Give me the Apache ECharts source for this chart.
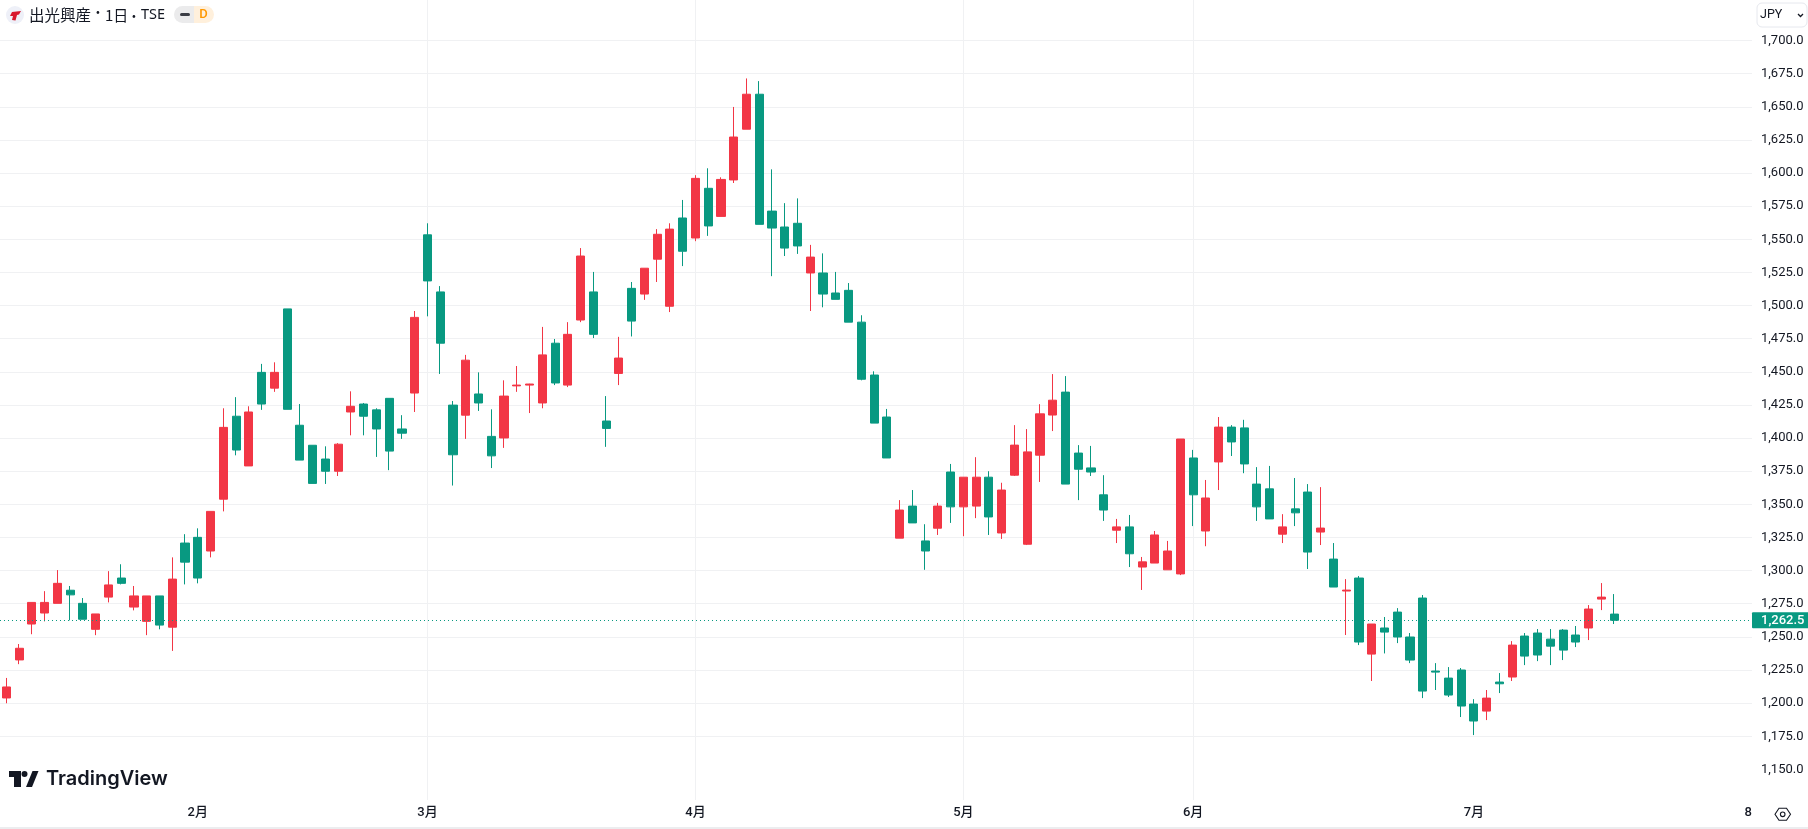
<!DOCTYPE html>
<html>
<head>
<meta charset="utf-8">
<style>html,body{margin:0;padding:0;background:#fff}#c{width:1808px;height:829px}</style>
<script src="https://cdn.jsdelivr.net/npm/echarts@6/dist/echarts.min.js"></script>
</head>
<body>
<div id="c"></div>
<script>
const opens = [1203.9,1232.6,1259.7,1268,1275.3,1285.2,1275.3,1255.7,1280,1294.4,1272.5,1261.7,1280.9,1257.3,1320.8,1325.1,1314.8,1353.9,1416.5,1379,1449.6,1437.7,1497.5,1409.7,1394.6,1384.2,1375,1419.7,1425.7,1421.3,1430,1406.9,1434,1553.4,1510.3,1424.9,1417.3,1433.3,1401.3,1400.1,1439.4,1440,1426.5,1471.6,1440,1489.1,1510.3,1412.9,1448.8,1513,1508.7,1535,1499.5,1566.1,1551,1588.5,1567.3,1594.8,1633.1,1659.5,1571.3,1559.3,1562.1,1524.6,1524.6,1509.5,1511.5,1487.5,1447.6,1415.9,1324.5,1348.7,1322.4,1332,1374.4,1348.1,1348.7,1370.5,1328.4,1372,1319.9,1387.1,1417.4,1434.7,1388.7,1377.5,1357.2,1330.5,1333,1302.7,1305.7,1300.6,1297.5,1385,1329.9,1382,1408.3,1407.7,1365.3,1361.7,1327.5,1346.6,1359.3,1329.1,1308.7,1284.6,1294.4,1237,1256.7,1268.7,1249.9,1279.3,1224.2,1218.9,1225,1199.3,1194,1215.9,1219.7,1250.6,1252.9,1248.3,1255.1,1251.4,1256.7,1278.5,1267.2];
const closes = [1212.2,1241.4,1276,1276,1290.4,1281.7,1263.3,1267.3,1289.2,1290.4,1280.9,1280.9,1258.9,1293.6,1306.4,1294.4,1344.7,1408.1,1391,1419.7,1425.7,1449.6,1421.7,1383.4,1365.8,1375,1395.4,1424,1416.5,1406.9,1390.2,1403.7,1491.1,1518.6,1471.6,1387.4,1458.8,1426.5,1386.6,1431.7,1440,1440.8,1462.8,1441.6,1478.3,1537.4,1478.3,1407.3,1460.4,1488.3,1528.2,1553.8,1557.7,1541,1596,1560.1,1595.2,1627.2,1659.5,1561.3,1558.5,1543.4,1545,1536.6,1508.7,1504.7,1487.5,1444.4,1411.3,1385,1345.7,1336,1314.8,1348.7,1348.1,1370.5,1370.5,1340.5,1360.8,1394.7,1389.6,1418.3,1428.6,1365.3,1376.5,1374.4,1345.7,1333,1312.7,1306.6,1326.9,1314.8,1399.3,1357.2,1354.8,1408.3,1397.1,1380.5,1348.1,1339,1333,1343.6,1314,1332.1,1287.6,1285.3,1246.1,1259.7,1253.6,1249.9,1232.5,1209.1,1223.4,1206.1,1197.8,1186.5,1203.8,1214.6,1243.8,1235.5,1236.3,1243,1240,1246.1,1271,1280,1262.5];
const lows = [1199.9,1229.4,1252,1261.7,1275.3,1262.5,1263.3,1251.3,1276,1289.6,1270,1251.3,1255.7,1239.4,1289.6,1290.4,1310,1344.7,1387,1379,1421.3,1434.9,1421.7,1383.4,1365.8,1365.4,1371.4,1402.1,1402.1,1385.8,1375.8,1399.4,1419.7,1491.9,1448.4,1364.2,1399.4,1420.5,1377.4,1392.6,1434.9,1418.9,1422.5,1440,1438.5,1487.5,1475.5,1393.4,1440,1476.7,1504.3,1517.8,1495.1,1529.8,1548.6,1552.6,1567.3,1592.5,1633.1,1561.3,1522.2,1537.4,1539,1495.9,1498.7,1504.7,1487.5,1443.6,1411.3,1385,1324.5,1336,1300.6,1326.9,1336,1326,1339.6,1326.9,1323.9,1371.4,1319.3,1366.9,1405.3,1365.3,1353.2,1371.4,1337.5,1320.8,1302.7,1285.4,1305.7,1300.6,1296.6,1333.6,1318.4,1360.8,1386.5,1373.5,1337.5,1339,1320.8,1333.6,1301.2,1319.3,1287.6,1251.4,1243.8,1216.7,1237.5,1245.3,1230.2,1203.8,1209.9,1204.6,1189.5,1175.9,1187.2,1207.6,1216.7,1228.7,1231.7,1228.7,1232.5,1242.3,1247.6,1270.2,1259.7];
const highs = [1219,1244.6,1276,1284.5,1300.4,1288.4,1279.3,1267.3,1299.6,1304.8,1288.4,1280.9,1280.9,1310,1327.5,1331.9,1344.7,1422.5,1430.9,1424,1456,1457.2,1497.5,1425.7,1394.6,1393.8,1396.2,1435.3,1426.5,1422.5,1430,1417.3,1495.9,1562.1,1514.7,1428,1462.8,1449.6,1421.7,1443.6,1454.4,1441,1483.9,1474.8,1487.5,1543.4,1525.4,1431.7,1476.4,1517.8,1528.2,1557.7,1562.1,1579.7,1598.4,1603.6,1596.8,1649.9,1671.4,1669.4,1602.8,1577.3,1580.9,1545.8,1539.4,1525.4,1517,1492.7,1450.4,1422,1353.2,1360.8,1335,1351.1,1380.5,1370.5,1385.6,1375,1366.3,1409.8,1406.8,1425.6,1448.3,1446.8,1394.7,1394.1,1372,1339,1342,1310.3,1329.9,1322.4,1399.3,1391.1,1368.4,1415.9,1409.8,1413.8,1378.1,1379,1342.6,1369.9,1365.3,1363,1320.8,1293.6,1295.9,1259.7,1265,1271.7,1252.9,1281.6,1230.2,1227.2,1226.5,1203,1209.9,1222.7,1246.8,1252.9,1255.9,1255.9,1255.9,1258.2,1274,1290.6,1282.3];

const monthBars = [15, 33, 54, 75, 93, 115];
const monthLabels = ['2月', '3月', '4月', '5月', '6月', '7月'];
const nextTickBar = 136.5;
const nextTickLabel = '8';
const priceTicks = [1150,1175,1200,1225,1250,1275,1300,1325,1350,1375,1400,1425,1450,1475,1500,1525,1550,1575,1600,1625,1650,1675,1700,1725];
const priceLabels = [1150,1175,1200,1225,1250,1275,1300,1325,1350,1375,1400,1425,1450,1475,1500,1525,1550,1575,1600,1625,1650,1675,1700];
const lastPrice = 1262.5;

const UP = '#F23645', DOWN = '#089981', GRID = '#F0F1F3', TEXT = '#131722';
const FONT = 'Roboto, "Noto Sans CJK JP", sans-serif';
const fmt = v => v.toFixed(1).replace(/\B(?=(\d{3})+(?!\d))/g, ',');
const candles = opens.map((o, i) => [i, o, closes[i], lows[i], highs[i]]);
const xText = {};
monthBars.forEach((b, i) => xText[b] = monthLabels[i]);
xText[nextTickBar] = nextTickLabel;

const chart = echarts.init(document.getElementById('c'), null, {renderer: 'canvas'});
chart.setOption({
  animation: false,
  backgroundColor: '#fff',
  grid: {left: 0, right: 56, top: 0, height: 800, containLabel: false},
  xAxis: {
    type: 'value', min: -0.5, max: 136.8, position: 'bottom',
    axisLine: {show: false},
    axisTick: {show: false, customValues: monthBars},
    splitLine: {show: true, showMinLine: false, showMaxLine: false, lineStyle: {color: GRID, width: 1}},
    axisLabel: {
      customValues: monthBars.concat([nextTickBar]),
      formatter: v => xText[v] || '',
      color: TEXT, fontFamily: FONT, fontSize: 13, fontWeight: 500, margin: 6
    }
  },
  yAxis: {
    type: 'value', position: 'right', min: 1126.9, max: 1730.6,
    axisLine: {show: false},
    axisTick: {show: false, customValues: priceTicks},
    splitLine: {show: true, showMinLine: false, showMaxLine: false, lineStyle: {color: GRID, width: 1}},
    axisLabel: {
      customValues: priceLabels,
      formatter: v => fmt(v),
      color: TEXT, fontFamily: FONT, fontSize: 13, margin: 9, align: 'left', padding: [0, 0, 4, 0]
    }
  },
  series: [{
    type: 'candlestick',
    data: candles,
    barWidth: 8.6,
    itemStyle: {color: UP, color0: DOWN, borderColor: UP, borderColor0: DOWN, borderWidth: 1},
    markLine: {
      silent: true, symbol: 'none', animation: false,
      lineStyle: {color: DOWN, type: [1, 3], width: 1},
      label: {
        position: 'end', distance: 0, formatter: () => fmt(lastPrice),
        color: '#fff', backgroundColor: DOWN, fontFamily: FONT, fontSize: 13, fontWeight: 500,
        padding: [2, 7, 1, 9], borderRadius: 1
      },
      data: [{yAxis: lastPrice}]
    }
  }],
  graphic: [
    {type: 'line', shape: {x1: 0, y1: 828, x2: 1808, y2: 828}, style: {stroke: '#ECEDEF', lineWidth: 2}},
    {type: 'circle', shape: {cx: 15, cy: 15, r: 9}, style: {fill: '#EEF0F8'}},
    {type: 'polygon', shape: {points: [[12,12],[21,11],[19,14.5],[17,15],[15.5,20.5],[12,20],[13,16],[10,16]]}, style: {fill: '#D8182E'}},
    {type: 'text', x: 29, y: 15, style: {text: '出光興産', font: '400 15.5px "Noto Sans CJK JP"', fill: TEXT, verticalAlign: 'middle'}},
    {type: 'text', x: 98, y: 12.5, style: {text: '·', font: '700 15px "Noto Sans CJK JP"', fill: TEXT, align: 'center', verticalAlign: 'middle'}},
    {type: 'text', x: 105, y: 15, style: {text: '1日', font: '400 15px "Noto Sans CJK JP"', fill: TEXT, verticalAlign: 'middle'}},
    {type: 'text', x: 134, y: 16, style: {text: '·', font: '700 15px "Noto Sans CJK JP"', fill: TEXT, align: 'center', verticalAlign: 'middle'}},
    {type: 'text', x: 141, y: 15, style: {text: 'TSE', font: '400 14.5px "Noto Sans", sans-serif', fill: TEXT, verticalAlign: 'middle'}},
    {type: 'rect', shape: {x: 174, y: 6, width: 22, height: 17, r: [8.5, 0, 0, 8.5]}, style: {fill: '#EBEBEC'}},
    {type: 'rect', shape: {x: 194, y: 6, width: 20, height: 17, r: [0, 8.5, 8.5, 0]}, style: {fill: '#FFF0DC'}},
    {type: 'rect', shape: {x: 180, y: 13, width: 10, height: 3, r: 1.5}, style: {fill: '#3A3D45'}},
    {type: 'text', x: 203.5, y: 15, style: {text: 'D', font: '500 13px Roboto', fill: '#FF9800', align: 'center', verticalAlign: 'middle'}},
    {type: 'rect', shape: {x: 1757, y: 3, width: 50, height: 24, r: 5}, style: {fill: '#fff', stroke: '#E6E8EE', lineWidth: 1}},
    {type: 'text', x: 1760, y: 15, style: {text: 'JPY', font: '400 12.5px Roboto', fill: TEXT, verticalAlign: 'middle'}},
    {type: 'polyline', shape: {points: [[1798, 14], [1800.5, 16.5], [1803, 14]]}, style: {stroke: TEXT, lineWidth: 1.3, fill: 'none'}},
    {type: 'polygon', shape: {points: [[9,771],[21,771],[21,787],[14,787],[14,777],[9,777]]}, style: {fill: '#131722'}},
    {type: 'circle', shape: {cx: 24.5, cy: 774, r: 3}, style: {fill: '#131722'}},
    {type: 'polygon', shape: {points: [[32.5,771],[38.5,771],[32,787],[26,787]]}, style: {fill: '#131722'}},
    {type: 'text', x: 46, y: 779, style: {text: 'TradingView', font: '600 20px Inter', fill: '#131722', verticalAlign: 'middle'}},
    {type: 'polygon', shape: {points: [[1775,814.3],[1779,808.3],[1786.5,808.3],[1790.5,814.3],[1786.5,820.3],[1779,820.3]]}, style: {fill: 'none', stroke: TEXT, lineWidth: 1.1}},
    {type: 'circle', shape: {cx: 1782.7, cy: 814.3, r: 2.3}, style: {fill: 'none', stroke: TEXT, lineWidth: 1.1}}
  ]
});
</script>
</body>
</html>
